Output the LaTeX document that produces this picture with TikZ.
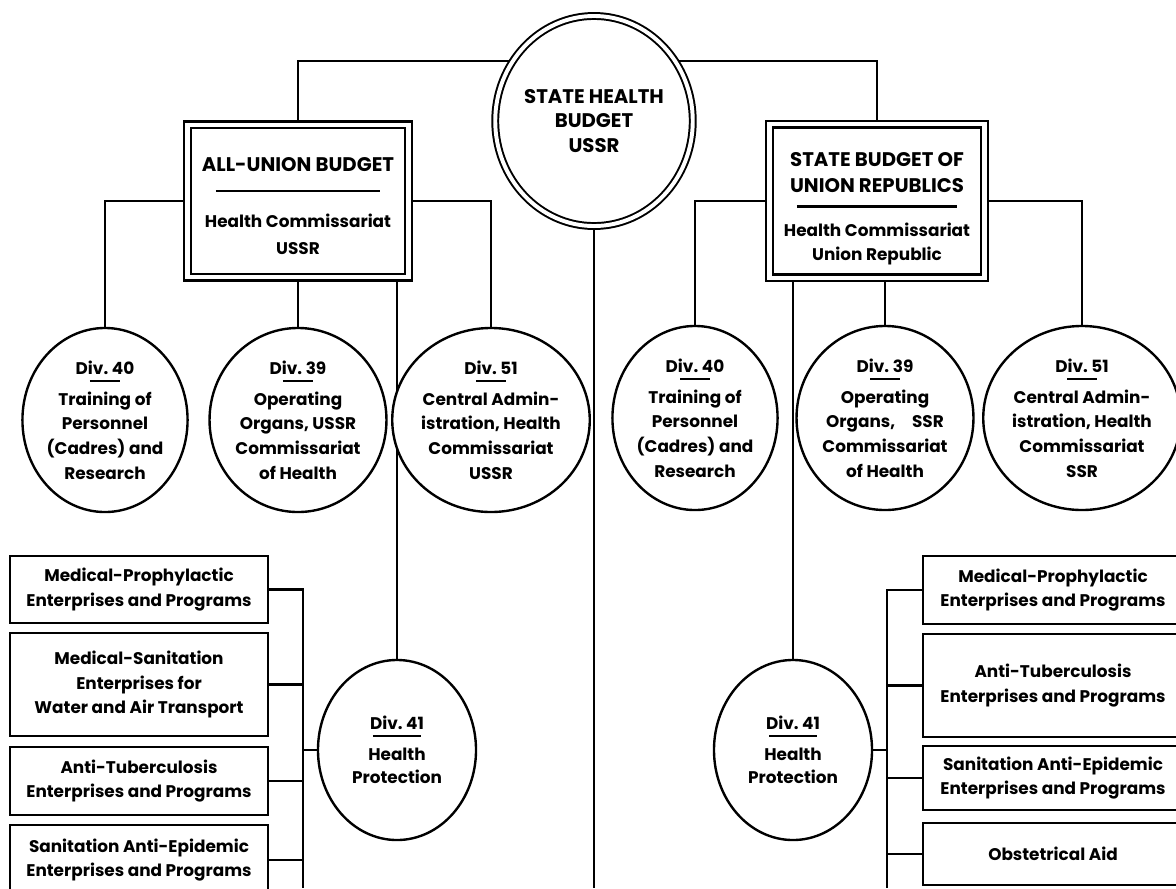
\documentclass[tikz,border=0pt]{standalone}
\usepackage{fontspec}
\setmainfont{Poppins}
\usetikzlibrary{shapes.geometric,backgrounds}
\newcommand{\capsize}{\fontsize{14}{17.5}\selectfont}
\newcommand{\plainsize}{\fontsize{12}{17.5}\selectfont}

\begin{document}
\begin{tikzpicture}[x=0.025cm,y=-0.025cm,
    every node/.style={font=\plainsize\bfseries, align=center, inner sep=0pt},
    link/.style={line width=1.5pt},
    budget/.style={ellipse, draw, fill=white, double, double distance=2.8pt, line width=1.4pt},
    office/.style={rectangle, draw, fill=white, double, double distance=3.2pt, line width=1.6pt},
    division/.style={ellipse, draw, fill=white, line width=1.7pt, minimum width=3.8cm, minimum height=4.6cm},
    program/.style={rectangle, draw, fill=white, line width=1.9pt}]
    \useasboundingbox (0,0) rectangle (1176,888);
    \coordinate (floor) at (0,888);
    \coordinate (lbus) at (303,888);
    \coordinate (rbus) at (887,888);
    % top of the chart
    \node[budget, minimum width=4.45cm, minimum height=5.25cm] (state) at (594,121)
        {\capsize STATE HEALTH\\\capsize BUDGET\\\capsize USSR};
    \node[office, minimum width=5.525cm, minimum height=3.81cm] (allunion) at (298,201)
        {\capsize\rule{0pt}{17pt}ALL-UNION BUDGET\\[-3pt]\rule{4.1cm}{1.5pt}\\[8pt]Health Commissariat\\[1.5pt]USSR};
    \node[office, minimum width=5.375cm, minimum height=3.84cm] (republic) at (877,201)
        {\capsize\rule{0pt}{21pt}STATE BUDGET OF\\[1.5pt]\capsize UNION REPUBLICS\\[-7pt]\rule{4cm}{1.5pt}\\[3pt]Health Commissariat\\Union Republic};
    % divisions, all-union side
    \node[division] (ldiv40) at (105,420) {Div.~40\\[-12pt]\rule{0.75cm}{1.4pt}\\[-1pt]Training of\\Personnel\\(Cadres) and\\Research};
    \node[division] (ldiv39) at (298,420) {Div.~39\\[-12pt]\rule{0.75cm}{1.4pt}\\[-1pt]Operating\\Organs, USSR\\Commissariat\\of Health};
    \node[division] (ldiv51) at (491,420) {Div.~51\\[-12pt]\rule{0.75cm}{1.4pt}\\[-1pt]Central Admin-\\istration, Health\\Commissariat\\USSR};
    \node[division, minimum width=3.95cm, minimum height=4.5cm] (ldiv41) at (397,750) {Div.~41\\[-12pt]\rule{1.2cm}{1.4pt}\\[-1pt]Health\\[-1pt]Protection};
    % divisions, republic side
    \node[division] (rdiv40) at (695,418) {Div.~40\\[-12pt]\rule{0.75cm}{1.4pt}\\[-1pt]Training of\\Personnel\\(Cadres) and\\Research};
    \node[division] (rdiv39) at (885,418) {Div.~39\\[-12pt]\rule{0.75cm}{1.4pt}\\[-1pt]Operating\\Organs,\quad SSR\\Commissariat\\of Health};
    \node[division] (rdiv51) at (1082,418) {Div.~51\\[-12pt]\rule{0.75cm}{1.4pt}\\[-1pt]Central Admin-\\istration, Health\\Commissariat\\SSR};
    \node[division, minimum width=3.95cm, minimum height=4.5cm] (rdiv41) at (793,750) {Div.~41\\[-12pt]\rule{1.2cm}{1.4pt}\\[-1pt]Health\\[-1pt]Protection};
    % programs under division 41
    \node[program, minimum width=6.45cm, minimum height=1.675cm] (lprog1) at (139,589.5) {Medical-Prophylactic\\Enterprises and Programs};
    \node[program, minimum width=6.45cm, minimum height=2.575cm] (lprog2) at (139,684.5) {Medical-Sanitation\\Enterprises for\\Water and Air Transport};
    \node[program, minimum width=6.45cm, minimum height=1.7cm] (lprog3) at (139,781) {Anti-Tuberculosis\\Enterprises and Programs};
    \node[program, minimum width=6.45cm, minimum height=1.75cm] (lprog4) at (139,860) {Sanitation Anti-Epidemic\\Enterprises and Programs};
    \node[program, minimum width=6.5cm, minimum height=1.7cm] (rprog1) at (1053,590) {Medical-Prophylactic\\Enterprises and Programs};
    \node[program, minimum width=6.5cm, minimum height=2.575cm] (rprog2) at (1053,685.5) {Anti-Tuberculosis\\Enterprises and Programs};
    \node[program, minimum width=6.5cm, minimum height=1.6cm] (rprog3) at (1053,778) {Sanitation Anti-Epidemic\\Enterprises and Programs};
    \node[program, minimum width=6.5cm, minimum height=1.55cm] (rprog4) at (1053,854) {Obstetrical Aid};
    % connectors
    \begin{scope}[on background layer]
        \draw[link] (allunion.north) |- (state.144);
        \draw[link] (republic.north) |- (state.36);
        \draw[link] (state.south) -- (state.south |- floor);
        \draw[link] (allunion.west) -| (ldiv40.north);
        \draw[link] (allunion.south) -- (ldiv39.north);
        \draw[link] (allunion.east) -| (ldiv51.north);
        \draw[link] (ldiv41.north) -- (ldiv41.north |- allunion.south);
        \draw[link] (republic.west) -| (rdiv40.north);
        \draw[link] (rdiv39.north) -- (rdiv39.north |- republic.south);
        \draw[link] (republic.east) -| (rdiv51.north);
        \draw[link] (rdiv41.north) -- (rdiv41.north |- republic.south);
        \draw[link] (lprog1.east) -| (lbus);
        \draw[link] (rprog1.west) -| (rbus);
        \foreach \n in {2,3,4} {
            \draw[link] (lprog\n.east) -- (lprog\n.east -| lbus);
            \draw[link] (rprog\n.west) -- (rprog\n.west -| rbus);
        }
        \draw[link] (ldiv41.west) -- (ldiv41.west -| lbus);
        \draw[link] (rdiv41.east) -- (rdiv41.east -| rbus);
    \end{scope}
\end{tikzpicture}
\end{document}
